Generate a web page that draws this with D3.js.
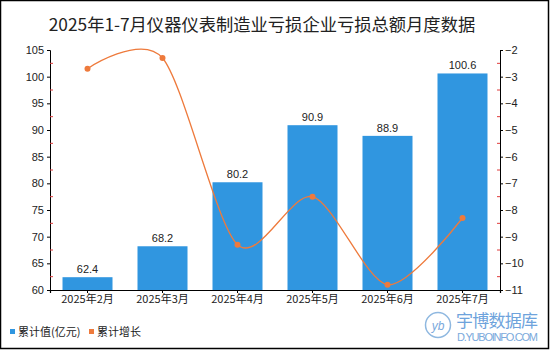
<!DOCTYPE html>
<html><head><meta charset="utf-8">
<script src="https://cdn.jsdelivr.net/npm/d3@7"></script>
<style>body{margin:0;background:#fff}svg{display:block}</style>
</head><body>
<script>
const categories = ["2025年2月","2025年3月","2025年4月","2025年5月","2025年6月","2025年7月"];
const values = [62.4, 68.2, 80.2, 90.9, 88.9, 100.6];
const growth = [-2.7, -2.3, -9.3, -7.5, -10.8, -8.3];
const leftTicks = [60,65,70,75,80,85,90,95,100,105];
const rightTicks = [-2,-3,-4,-5,-6,-7,-8,-9,-10,-11];
const title = "2025年1-7月仪器仪表制造业亏损企业亏损总额月度数据";
const legendLabels = ["累计值(亿元)","累计增长"];

const W=550,H=350, L=50,R=500,T=50,B=290;
const font = "'Liberation Sans','Noto Sans CJK SC',sans-serif";
const blue="#3096e0", orange="#ee7a3c";
const svg = d3.select("body").append("svg").attr("width",W).attr("height",H).style("font-family",font);
svg.append("rect").attr("x",0.5).attr("y",0.5).attr("width",W-2).attr("height",H-2).attr("fill","#fff").attr("stroke","#000").attr("stroke-width",1.5);

svg.append("text").attr("x",262).attr("y",31).attr("text-anchor","middle").attr("font-size",17.3).attr("fill","#222")
  .style("font-family","'Noto Sans CJK SC',sans-serif").text(title);

const x = d3.scaleBand().domain(categories).range([L,R]).paddingInner(0.3333).paddingOuter(0.1667);
const y = d3.scaleLinear().domain([60,105]).range([B,T]);
const y2 = d3.scaleLinear().domain([-11,-2]).range([B,T]);

// bars
svg.selectAll("rect.bar").data(values).enter().append("rect")
  .attr("x",(d,i)=>x(categories[i])).attr("y",d=>y(d)).attr("width",x.bandwidth()).attr("height",d=>B-y(d)).attr("fill",blue);
svg.selectAll("text.lbl").data(values).enter().append("text")
  .attr("x",(d,i)=>x(categories[i])+x.bandwidth()/2).attr("y",d=>y(d)-4).attr("text-anchor","middle")
  .attr("font-size",11).attr("fill","#222").text(d=>d.toFixed(1));

// left axis
const ax = svg.append("g").attr("transform",`translate(${L},0)`)
  .call(d3.axisLeft(y).tickValues(leftTicks).tickSize(3).tickPadding(3).tickFormat(d3.format("d")));
ax.select(".domain").attr("stroke","#000");
ax.selectAll("text").attr("font-size",11).attr("fill","#222").style("font-family",font);
const minorL = d3.range(62.5,105,5);
svg.append("g").selectAll("line").data(minorL).enter().append("line")
  .attr("x1",L).attr("x2",L+3).attr("y1",d=>y(d)).attr("y2",d=>y(d)).attr("stroke","#e03c3c");

// right axis
const ar = svg.append("g").attr("transform",`translate(${R},0)`)
  .call(d3.axisRight(y2).tickValues(rightTicks).tickSize(3).tickPadding(2).tickFormat(d=>"\u2212"+Math.abs(d)));
ar.select(".domain").attr("stroke","#000");
ar.selectAll("text").attr("font-size",11).attr("fill","#222").style("font-family",font);
const minorR = d3.range(-10.5,-2,1);
svg.append("g").selectAll("line").data(minorR).enter().append("line")
  .attr("x1",R-3).attr("x2",R).attr("y1",d=>y2(d)).attr("y2",d=>y2(d)).attr("stroke","#e03c3c");

// x axis
const axx = svg.append("g").attr("transform",`translate(0,${B})`)
  .call(d3.axisBottom(x).tickSize(3).tickPadding(2));
axx.select(".domain").attr("stroke","#000").attr("stroke-width",1.2);
axx.selectAll("text").attr("font-size",11).attr("fill","#222").style("font-family","'Noto Sans CJK SC',sans-serif");

// line
const cx = (d,i)=>x(categories[i])+x.bandwidth()/2;
const line = d3.line().x(cx).y(d=>y2(d)).curve(d3.curveCardinal.tension(0.15));
svg.append("path").datum(growth).attr("d",line).attr("fill","none").attr("stroke",orange).attr("stroke-width",1.3);
svg.selectAll("circle.pt").data(growth).enter().append("circle")
  .attr("cx",cx).attr("cy",d=>y2(d)).attr("r",3).attr("fill",orange);

// legend
const lg = svg.append("g").style("font-family","'Noto Sans CJK SC',sans-serif");
lg.append("rect").attr("x",10).attr("y",329).attr("width",5).attr("height",5).attr("fill",blue);
lg.append("text").attr("x",18).attr("y",336).attr("font-size",11).attr("fill","#222").text(legendLabels[0]);
lg.append("rect").attr("x",89).attr("y",329).attr("width",5).attr("height",5).attr("fill",orange);
lg.append("text").attr("x",97).attr("y",336).attr("font-size",11).attr("fill","#222").text(legendLabels[1]);

// watermark
const wm = svg.append("g");
wm.append("circle").attr("cx",438).attr("cy",325).attr("r",12.5).attr("fill","none").attr("stroke","#8fb8e0").attr("stroke-width",1.5);
wm.append("text").attr("x",438).attr("y",330).attr("text-anchor","middle").attr("font-size",12).attr("font-style","italic").attr("fill","#7aa9dc").attr("font-family",font).text("yb");
wm.append("text").attr("x",456).attr("y",327).attr("font-size",17).attr("fill","#6ea3dc").style("font-family","'Noto Sans CJK SC',sans-serif").attr("textLength",82).text("宇博数据库");
wm.append("text").attr("x",457).attr("y",341).attr("font-size",11).attr("fill","#7aa9dc").attr("textLength",81).text("D.YUBOINFO.COM");
</script>
</body></html>
